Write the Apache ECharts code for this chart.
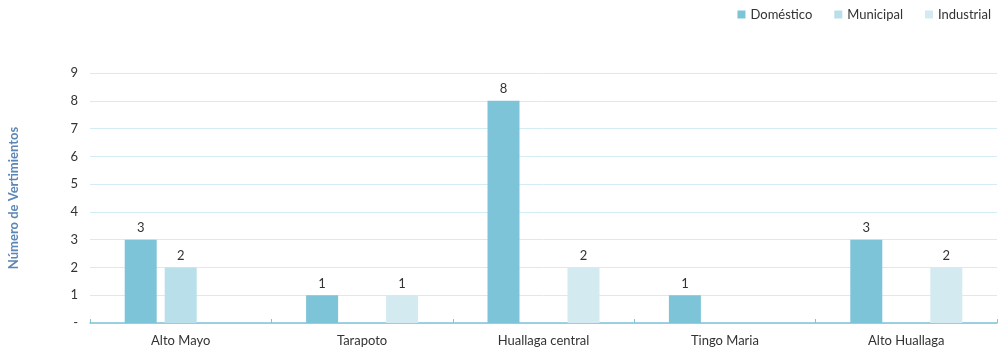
<!DOCTYPE html>
<html>
<head>
<meta charset="utf-8">
<script src="https://cdn.jsdelivr.net/npm/echarts@6/dist/echarts.min.js"></script>
<style>
html, body { margin: 0; padding: 0; background: #fff; }
#chart { width: 1001px; height: 354px; }
</style>
</head>
<body>
<div id="chart"></div>
<script>
var categories = ['Alto Mayo', 'Tarapoto', 'Huallaga central', 'Tingo Maria', 'Alto Huallaga'];
var domestico = [3, 1, 8, 1, 3];
var municipal = [2, 0, 0, 0, 0];
var industrial = [0, 1, 2, 0, 2];

var chart = echarts.init(document.getElementById('chart'));
var font = 'Lato';

var barLabel = {
    show: true,
    position: 'top',
    color: '#333',
    fontFamily: font,
    fontSize: 13,
    distance: 5,
    formatter: function (p) { return p.value ? p.value : ''; }
};

// zero values are simply not drawn
function bar(name, data, color) {
    return {
        name: name,
        type: 'bar',
        data: data.map(function (v) { return v === 0 ? null : v; }),
        barWidth: 32,
        barGap: '25%',
        itemStyle: { color: color },
        label: barLabel
    };
}

var option = {
    animation: false,
    textStyle: { fontFamily: font },
    legend: {
        right: 5,
        top: 3,
        itemWidth: 8,
        itemHeight: 8,
        itemGap: 22,
        icon: 'rect',
        textStyle: { color: '#333', fontSize: 13, fontFamily: font },
        data: ['Doméstico', 'Municipal', 'Industrial']
    },
    grid: { left: 90, right: 4, top: 73, bottom: 31, containLabel: false, outerBoundsMode: 'none' },
    xAxis: {
        type: 'category',
        data: categories,
        axisLine: { lineStyle: { color: '#7fc4d9', width: 1.5 } },
        axisTick: { show: true, inside: true, length: 4, lineStyle: { color: '#7fc4d9' } },
        axisLabel: { color: '#333', fontSize: 13, margin: 11 }
    },
    yAxis: {
        type: 'value',
        min: 0,
        max: 9,
        interval: 1,
        name: 'Número de Vertimientos',
        nameLocation: 'middle',
        nameRotate: 90,
        nameGap: 70,
        nameTextStyle: { color: '#5b86b5', fontWeight: 'bold', fontSize: 13 },
        axisLine: { show: false },
        axisTick: { show: false },
        axisLabel: {
            color: '#333',
            fontSize: 13,
            margin: 12,
            formatter: function (v) { return v === 0 ? '-' : v; }
        },
        splitLine: { lineStyle: { color: '#d4ecf3', width: 1 } }
    },
    series: [
        bar('Doméstico', domestico, '#7ec4d9'),
        bar('Municipal', municipal, '#b9dfea'),
        bar('Industrial', industrial, '#d3eaf1')
    ]
};

chart.setOption(option);
window.addEventListener('resize', chart.resize);
</script>
</body>
</html>
